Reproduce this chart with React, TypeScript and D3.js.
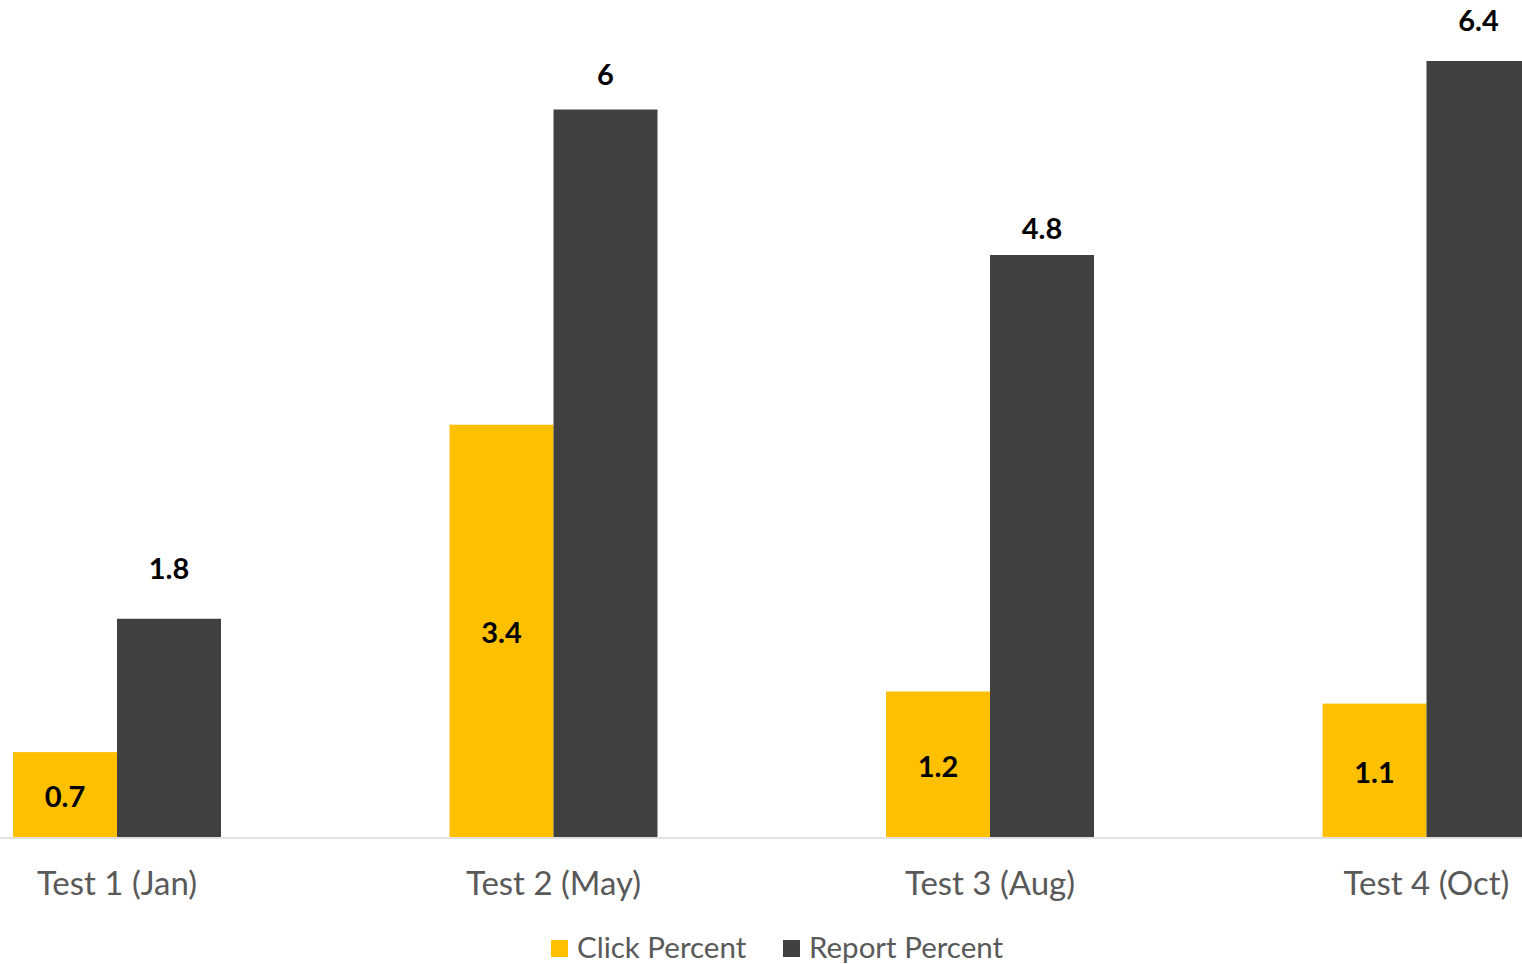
import { useEffect, useRef } from "react";
import * as d3 from "d3";

const categories = ["Test 1 (Jan)", "Test 2 (May)", "Test 3 (Aug)", "Test 4 (Oct)"];
const seriesNames = ["Click Percent", "Report Percent"];
const clickPercent = [0.7, 3.4, 1.2, 1.1];
const reportPercent = [1.8, 6, 4.8, 6.4];
const colors = ["#FFC000", "#404040"];

// labels above the dark bars were nudged by hand in the original
const reportLabelLift = [51, 36, 27, 41];

const W = 1522;
const H = 964;
const FONT = "Lato, 'Open Sans', sans-serif";

export default function App() {
  const svgRef = useRef<SVGSVGElement>(null);

  useEffect(() => {
    const svg = d3.select(svgRef.current);
    if (svgRef.current === null) return;
    svg.selectAll("*").remove();

    const baseY = 837;
    const x = d3.scaleBand<string>()
      .domain(categories)
      .range([117 - 218.25, 117 + 3 * 436.5 + 218.25])
      .padding(0);
    const inner = d3.scaleBand<string>()
      .domain(seriesNames)
      .range([x.bandwidth() / 2 - 104, x.bandwidth() / 2 + 104]);
    const y = d3.scaleLinear().domain([0, 6.4]).range([baseY, 61]);

    const rows = categories.map((c, i) => ({
      cat: c,
      vals: [clickPercent[i], reportPercent[i]],
      lift: reportLabelLift[i],
    }));

    const g = svg.append("g");
    const groups = g.selectAll("g.grp")
      .data(rows)
      .join("g")
      .attr("class", "grp")
      .attr("transform", d => `translate(${x(d.cat)},0)`);

    groups.selectAll("rect")
      .data(d => d.vals.map((v, j) => ({ v, j })))
      .join("rect")
      .attr("x", d => inner(seriesNames[d.j])!)
      .attr("width", inner.bandwidth())
      .attr("y", d => y(d.v))
      .attr("height", d => baseY - y(d.v))
      .attr("fill", d => colors[d.j]);

    // click labels, centred inside the bar
    groups.append("text")
      .attr("x", inner(seriesNames[0])! + inner.bandwidth() / 2)
      .attr("y", d => (y(d.vals[0]) + baseY) / 2 + 2)
      .attr("dy", "0.36em")
      .attr("text-anchor", "middle")
      .style("font-family", FONT)
      .style("font-weight", "bold")
      .style("font-size", "29px")
      .attr("fill", "#000")
      .text(d => d.vals[0]);

    // report labels, above the bar
    groups.append("text")
      .attr("x", inner(seriesNames[1])! + inner.bandwidth() / 2)
      .attr("y", d => y(d.vals[1]) - d.lift + 1)
      .attr("dy", "0.36em")
      .attr("text-anchor", "middle")
      .style("font-family", FONT)
      .style("font-weight", "bold")
      .style("font-size", "29px")
      .attr("fill", "#000")
      .text(d => d.vals[1]);

    // baseline
    g.append("line")
      .attr("x1", 0).attr("x2", W)
      .attr("y1", baseY + 1).attr("y2", baseY + 1)
      .attr("stroke", "#d9d9d9")
      .attr("stroke-width", 1.5);

    // category labels
    g.selectAll("text.cat")
      .data(categories)
      .join("text")
      .attr("class", "cat")
      .attr("x", d => x(d)! + x.bandwidth() / 2)
      .attr("y", 895)
      .attr("text-anchor", "middle")
      .style("font-family", FONT)
      .style("font-size", "33px")
      .attr("fill", "#595959")
      .text(d => d);

    // legend
    const legendX = [551, 783];
    const leg = g.selectAll("g.leg")
      .data(seriesNames)
      .join("g")
      .attr("class", "leg")
      .attr("transform", (_, i) => `translate(${legendX[i]},940)`);
    leg.append("rect")
      .attr("width", 17).attr("height", 17)
      .attr("fill", (_, i) => colors[i]);
    leg.append("text")
      .attr("x", 26)
      .attr("y", 18)
      .style("font-family", FONT)
      .style("font-size", "29.5px")
      .attr("fill", "#595959")
      .text(d => d);
  }, []);

  return (
    <div style={{ position: "absolute", left: 0, top: 0, width: W, height: H, background: "#fff" }}>
      <svg ref={svgRef} width={W} height={H} style={{ display: "block" }} />
    </div>
  );
}
